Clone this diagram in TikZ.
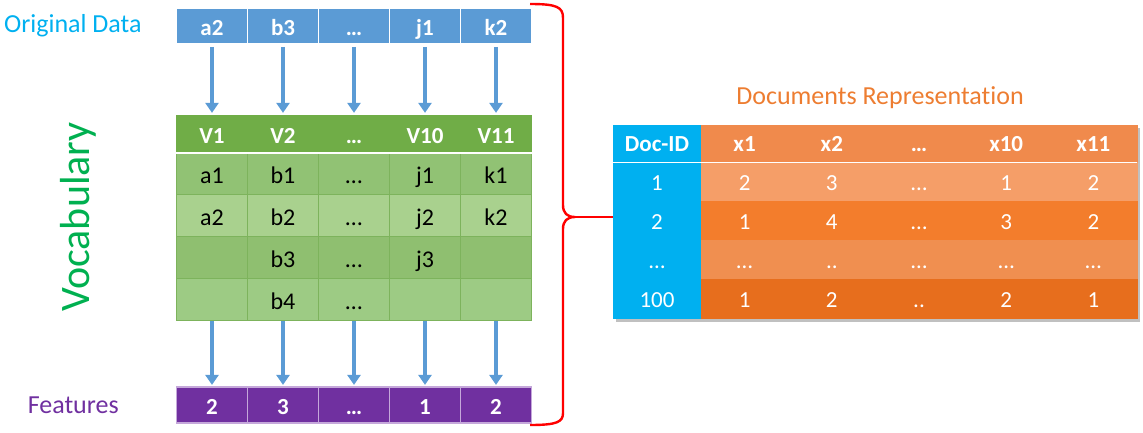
\documentclass[tikz,border=0pt]{standalone}
\usepackage{fontspec}
\setmainfont{Carlito}[Ligatures=NoCommon]
\usepackage{tikz}
\usetikzlibrary{positioning,arrows.meta}
\definecolor{dataBlue}{HTML}{5B9BD5}
\definecolor{labelCyan}{HTML}{00B0F0}
\definecolor{vocGreen}{HTML}{00B050}
\definecolor{headGreen}{HTML}{70AD47}
\definecolor{gridGreen}{HTML}{7DB35C}
\definecolor{rowA}{HTML}{91C274}
\definecolor{rowB}{HTML}{A9D18E}
\definecolor{rowC}{HTML}{8FBF70}
\definecolor{rowD}{HTML}{9DCB84}
\definecolor{featPurple}{HTML}{7030A0}
\definecolor{featEdge}{HTML}{C5A8DA}
\definecolor{docBlue}{HTML}{00B0F0}
\definecolor{titleOrange}{HTML}{ED7D31}
\definecolor{oHead}{HTML}{F08A4C}
\definecolor{oA}{HTML}{F59E68}
\definecolor{oB}{HTML}{F37D2C}
\definecolor{oC}{HTML}{F08F50}
\definecolor{oD}{HTML}{E76E1D}
\definecolor{braceRed}{HTML}{FF0000}
\tikzset{
  lbl/.style={font=\fontsize{26}{30}\selectfont, inner sep=0pt},
  flow/.style={draw=dataBlue, line width=3.4pt, -{Triangle[width=13pt,length=10pt]}},
  curly/.style={draw=braceRed, line width=2.4pt, line join=round},
}

\begin{document}
\begin{tikzpicture}[x=1pt, y=-1pt,
  box/.style={minimum width=71pt, inner sep=0pt, text depth=0pt},
  orig/.style={box, fill=dataBlue, draw=white, line width=1.5pt, minimum height=36pt, text=white, font=\bfseries\fontsize{23}{23}\selectfont, text height=18pt},
  vhead/.style={box, fill=headGreen, draw=headGreen, line width=0.3pt, minimum height=38pt, text=white, font=\bfseries\fontsize{23}{23}\selectfont, text height=18pt},
  vcell/.style={box, fill=#1, draw=gridGreen, line width=0.8pt, minimum height=41.75pt, font=\fontsize{24}{24}\selectfont, text height=20pt},
  feat/.style={box, fill=featPurple, draw=featEdge, line width=1.2pt, minimum height=36pt, text=white, font=\bfseries\fontsize{23}{23}\selectfont, text height=18pt},
  dcell/.style={inner sep=0pt, minimum height=39pt, text=white, font=\fontsize{23}{23}\selectfont, text height=16pt, text depth=0pt},
  idcol/.style={dcell, minimum width=88pt, fill=docBlue, draw=docBlue, line width=0.3pt},
  valcol/.style={dcell, minimum width=87.2pt, fill=#1, draw=#1, line width=0.3pt},
  dhead/.style={minimum height=37.5pt, font=\bfseries\fontsize{23}{23}\selectfont}]
\useasboundingbox (0,0) rectangle (1143,432);
% original data
\node[orig] (o1) at (212,26) {a2};
\node[orig] (o2) at (283,26) {b3};
\node[orig] (o3) at (354,26) {…};
\node[orig] (o4) at (425,26) {j1};
\node[orig] (o5) at (496,26) {k2};
\node[lbl, text=labelCyan, left=34pt of o1] (origlbl) {Original Data};
% vocabulary
\node[vhead] (v1) at (212,134) {V1};
\node[vhead] (v2) at (283,134) {V2};
\node[vhead] (v3) at (354,134) {…};
\node[vhead] (v4) at (425,134) {V10};
\node[vhead] (v5) at (496,134) {V11};
\node[vcell=rowA] (c11) at (212,173.9) {a1};
\node[vcell=rowA] (c12) at (283,173.9) {b1};
\node[vcell=rowA] (c13) at (354,173.9) {…};
\node[vcell=rowA] (c14) at (425,173.9) {j1};
\node[vcell=rowA] (c15) at (496,173.9) {k1};
\node[vcell=rowB] (c21) at (212,215.6) {a2};
\node[vcell=rowB] (c22) at (283,215.6) {b2};
\node[vcell=rowB] (c23) at (354,215.6) {…};
\node[vcell=rowB] (c24) at (425,215.6) {j2};
\node[vcell=rowB] (c25) at (496,215.6) {k2};
\node[vcell=rowC] (c31) at (212,257.4) {};
\node[vcell=rowC] (c32) at (283,257.4) {b3};
\node[vcell=rowC] (c33) at (354,257.4) {…};
\node[vcell=rowC] (c34) at (425,257.4) {j3};
\node[vcell=rowC] (c35) at (496,257.4) {};
\node[vcell=rowD] (c41) at (212,299.1) {};
\node[vcell=rowD] (c42) at (283,299.1) {b4};
\node[vcell=rowD] (c43) at (354,299.1) {…};
\node[vcell=rowD] (c44) at (425,299.1) {};
\node[vcell=rowD] (c45) at (496,299.1) {};
\draw[white, line width=1.5pt] (v1.south west) -- (v5.south east);
\node[text=vocGreen, rotate=90, inner sep=0pt, font=\fontsize{42}{42}\selectfont] (voc) at (78,217) {Vocabulary};
% features
\node[feat] (f1) at (212,405) {2};
\node[feat] (f2) at (283,405) {3};
\node[feat] (f3) at (354,405) {…};
\node[feat] (f4) at (425,405) {1};
\node[feat] (f5) at (496,405) {2};
\node[lbl, text=featPurple, left=57pt of f1] (featlbl) {Features};
% arrows
\draw[flow, shorten <=2pt, shorten >=2pt] (o1) -- (v1);
\draw[flow, shorten <=2pt, shorten >=2pt] (o2) -- (v2);
\draw[flow, shorten <=2pt, shorten >=2pt] (o3) -- (v3);
\draw[flow, shorten <=2pt, shorten >=2pt] (o4) -- (v4);
\draw[flow, shorten <=2pt, shorten >=2pt] (o5) -- (v5);
\draw[flow, shorten <=0.5pt, shorten >=1.5pt] (c41) -- (f1);
\draw[flow, shorten <=0.5pt, shorten >=1.5pt] (c42) -- (f2);
\draw[flow, shorten <=0.5pt, shorten >=1.5pt] (c43) -- (f3);
\draw[flow, shorten <=0.5pt, shorten >=1.5pt] (c44) -- (f4);
\draw[flow, shorten <=0.5pt, shorten >=1.5pt] (c45) -- (f5);
% documents representation
\fill[black!45, opacity=0.55] (616,128) rectangle (1140,321.5);
\node[idcol, dhead] (doc0) at (657,143.75) {Doc-ID};
\node[idcol] (doc1) at (657,182) {1};
\node[idcol] (doc2) at (657,221) {2};
\node[idcol] (doc3) at (657,260) {…};
\node[idcol] (doc4) at (657,299) {100};
\node[valcol=oHead, dhead] (t01) at (744.6,143.75) {x1};
\node[valcol=oHead, dhead] (t02) at (831.8,143.75) {x2};
\node[valcol=oHead, dhead] (t03) at (919,143.75) {…};
\node[valcol=oHead, dhead] (t04) at (1006.2,143.75) {x10};
\node[valcol=oHead, dhead] (t05) at (1093.4,143.75) {x11};
\node[valcol=oA] (t11) at (744.6,182) {2};
\node[valcol=oA] (t12) at (831.8,182) {3};
\node[valcol=oA] (t13) at (919,182) {…};
\node[valcol=oA] (t14) at (1006.2,182) {1};
\node[valcol=oA] (t15) at (1093.4,182) {2};
\node[valcol=oB] (t21) at (744.6,221) {1};
\node[valcol=oB] (t22) at (831.8,221) {4};
\node[valcol=oB] (t23) at (919,221) {…};
\node[valcol=oB] (t24) at (1006.2,221) {3};
\node[valcol=oB] (t25) at (1093.4,221) {2};
\node[valcol=oC] (t31) at (744.6,260) {…};
\node[valcol=oC] (t32) at (831.8,260) {..};
\node[valcol=oC] (t33) at (919,260) {…};
\node[valcol=oC] (t34) at (1006.2,260) {…};
\node[valcol=oC] (t35) at (1093.4,260) {…};
\node[valcol=oD] (t41) at (744.6,299) {1};
\node[valcol=oD] (t42) at (831.8,299) {2};
\node[valcol=oD] (t43) at (919,299) {..};
\node[valcol=oD] (t44) at (1006.2,299) {2};
\node[valcol=oD] (t45) at (1093.4,299) {1};
\draw[white, line width=1.5pt] (doc0.south west) -- (t05.south east);
\node[lbl, text=titleOrange, anchor=base] (title) at (880,104.5) {Documents Representation};
% brace
\coordinate (tip) at (575,217);
\draw[curly] (530,4) .. controls (557,4) and (563,7) .. (563,18) -- (563,205) .. controls (563,213) and (567,217) .. (tip) .. controls (567,217) and (563,221) .. (563,229) -- (563,413) .. controls (563,422) and (557,425) .. (530,425);
\draw[curly] (tip) -- (tip -| doc2.west);
\end{tikzpicture}
\end{document}
